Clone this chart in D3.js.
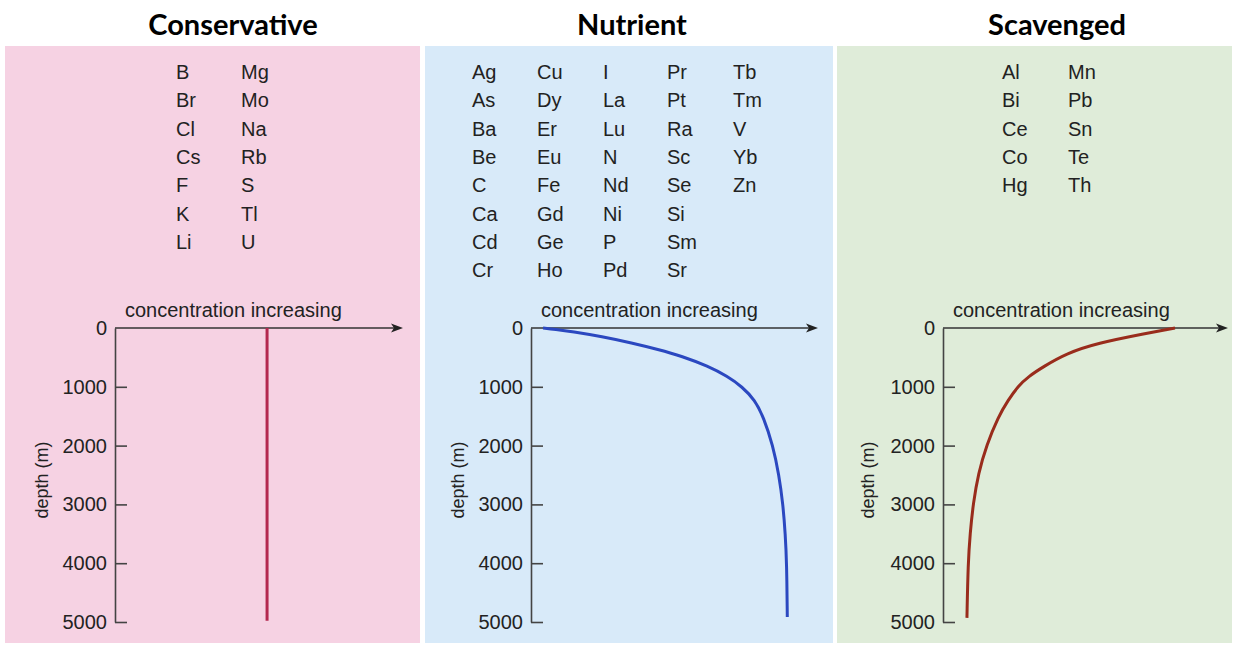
<!DOCTYPE html>
<html>
<head>
<meta charset="utf-8">
<script src="https://cdn.jsdelivr.net/npm/d3@7"></script>
<style>
  html, body { margin: 0; padding: 0; background: #ffffff; }
  svg { display: block; }
</style>
</head>
<body>
<svg id="chart" width="1236" height="647"></svg>
<script>
// ---------------- DATA ----------------
const panelTitles = ["Conservative", "Nutrient", "Scavenged"];

const conservativeElements = [
  ["B", "Br", "Cl", "Cs", "F", "K", "Li"],
  ["Mg", "Mo", "Na", "Rb", "S", "Tl", "U"]
];
const nutrientElements = [
  ["Ag", "As", "Ba", "Be", "C", "Ca", "Cd", "Cr"],
  ["Cu", "Dy", "Er", "Eu", "Fe", "Gd", "Ge", "Ho"],
  ["I", "La", "Lu", "N", "Nd", "Ni", "P", "Pd"],
  ["Pr", "Pt", "Ra", "Sc", "Se", "Si", "Sm", "Sr"],
  ["Tb", "Tm", "V", "Yb", "Zn"]
];
const scavengedElements = [
  ["Al", "Bi", "Ce", "Co", "Hg"],
  ["Mn", "Pb", "Sn", "Te", "Th"]
];

const depthTicks = [0, 1000, 2000, 3000, 4000, 5000];
const xAxisLabel = "concentration increasing";
const yAxisLabel = "depth (m)";

// depth (m) -> relative concentration (0-100 of axis length)
const conservativeDepth = [0, 1000, 2000, 3000, 4000, 4980];
const conservativeConc  = [52.8, 52.8, 52.8, 52.8, 52.8, 52.8];

const nutrientDepth = [0, 0, 22, 60, 145, 255, 365, 480, 650, 820, 1000, 1225, 1513, 2000, 2500, 3000, 3500, 4000, 4915, 4915];
const nutrientConc  = [4.2, 4.2, 8.4, 14.3, 24.7, 35.2, 44.3, 52.6, 61.7, 68.4, 73.6, 78.0, 81.0, 84.3, 86.4, 87.8, 88.6, 89.1, 89.3, 89.3];

const scavengedDepth = [0, 0, 22, 90, 260, 431, 658, 828, 986, 1224, 1508, 1990, 2472, 2982, 3500, 4000, 4930, 4930];
const scavengedConc  = [81.4, 81.4, 79.0, 71.5, 53.9, 43.4, 35.2, 29.9, 26.4, 22.9, 19.4, 15.3, 12.4, 10.6, 9.5, 8.8, 8.4, 8.4];

// ---------------- LAYOUT ----------------
const panels = [
  { title: panelTitles[0], titleX: 233, bg: "#f6d2e3", bgX: 5, bgW: 415,
    axisX: 115, tipX: 403, elements: conservativeElements, colX: [176, 241],
    depth: conservativeDepth, conc: conservativeConc, color: "#b3284f", labelX: 42 },
  { title: panelTitles[1], titleX: 632, bg: "#d8eaf9", bgX: 425, bgW: 408,
    axisX: 531, tipX: 818, elements: nutrientElements, colX: [472, 537, 603, 667, 733],
    depth: nutrientDepth, conc: nutrientConc, color: "#2b48c0", labelX: 458 },
  { title: panelTitles[2], titleX: 1057, bg: "#dfecd9", bgX: 837, bgW: 395,
    axisX: 943, tipX: 1228, elements: scavengedElements, colX: [1002, 1068],
    depth: scavengedDepth, conc: scavengedConc, color: "#992c1c", labelX: 868 }
];

const svg = d3.select("#chart");
const yTop = 328, yBottom = 622;
const rowY0 = 79, rowStep = 28.3;
const txtFont = "'Liberation Sans', Arial, Helvetica, sans-serif";
const txtColor = "#222";

const yScale = d3.scaleLinear().domain([0, 5000]).range([yTop, yBottom]);

panels.forEach(p => {
  svg.append("rect")
    .attr("x", p.bgX).attr("y", 46)
    .attr("width", p.bgW).attr("height", 597)
    .attr("fill", p.bg);

  svg.append("text")
    .attr("x", p.titleX).attr("y", 35)
    .attr("text-anchor", "middle")
    .attr("font-family", "Lato, 'Open Sans', sans-serif")
    .attr("font-weight", "bold")
    .attr("font-size", 29)
    .attr("fill", "#000")
    .text(p.title);

  p.elements.forEach((col, ci) => {
    col.forEach((el, ri) => {
      svg.append("text")
        .attr("x", p.colX[ci])
        .attr("y", rowY0 + ri * rowStep)
        .attr("font-family", txtFont)
        .attr("font-size", 20)
        .attr("fill", txtColor)
        .text(el);
    });
  });

  const xScale = d3.scaleLinear().domain([0, 100]).range([p.axisX, p.tipX]);
  const g = svg.append("g");

  const yAxis = d3.axisLeft(yScale)
    .tickValues(depthTicks)
    .tickSize(-12)
    .tickSizeOuter(0)
    .tickPadding(8)
    .tickFormat(d3.format("d"));
  const ya = g.append("g")
    .attr("transform", `translate(${p.axisX},0)`)
    .call(yAxis);
  ya.select(".domain").attr("stroke", "#444").attr("stroke-width", 1.6);
  ya.selectAll(".tick line").attr("stroke", "#444").attr("stroke-width", 1.6)
    .attr("display", d => d === 0 ? "none" : null);
  ya.selectAll(".tick text")
    .attr("font-family", txtFont)
    .attr("font-size", 20)
    .attr("fill", txtColor);

  g.append("line")
    .attr("x1", xScale(0)).attr("x2", xScale(100) - 8)
    .attr("y1", yScale(0)).attr("y2", yScale(0))
    .attr("stroke", "#333").attr("stroke-width", 1.4);
  const tip = xScale(100);
  g.append("path")
    .attr("d", `M${tip},${yScale(0)} L${tip - 12},${yScale(0) - 4.5} L${tip - 9},${yScale(0)} L${tip - 12},${yScale(0) + 4.5} Z`)
    .attr("fill", "#222");

  g.append("text")
    .attr("x", p.axisX + 10).attr("y", 317)
    .attr("font-family", txtFont)
    .attr("font-size", 20)
    .attr("fill", txtColor)
    .text(xAxisLabel);

  g.append("text")
    .attr("transform", `translate(${p.labelX},480) rotate(-90)`)
    .attr("text-anchor", "middle")
    .attr("dy", "0.35em")
    .attr("font-family", txtFont)
    .attr("font-size", 18)
    .attr("fill", txtColor)
    .text(yAxisLabel);

  const pts = p.depth.map((d, i) => [p.conc[i], d]);
  const line = d3.line()
    .x(d => xScale(d[0]))
    .y(d => yScale(d[1]))
    .curve(d3.curveBasis);
  g.append("path")
    .datum(pts)
    .attr("d", line)
    .attr("fill", "none")
    .attr("stroke", p.color)
    .attr("stroke-width", 3)
    .attr("stroke-linecap", "butt");
});
</script>
</body>
</html>
